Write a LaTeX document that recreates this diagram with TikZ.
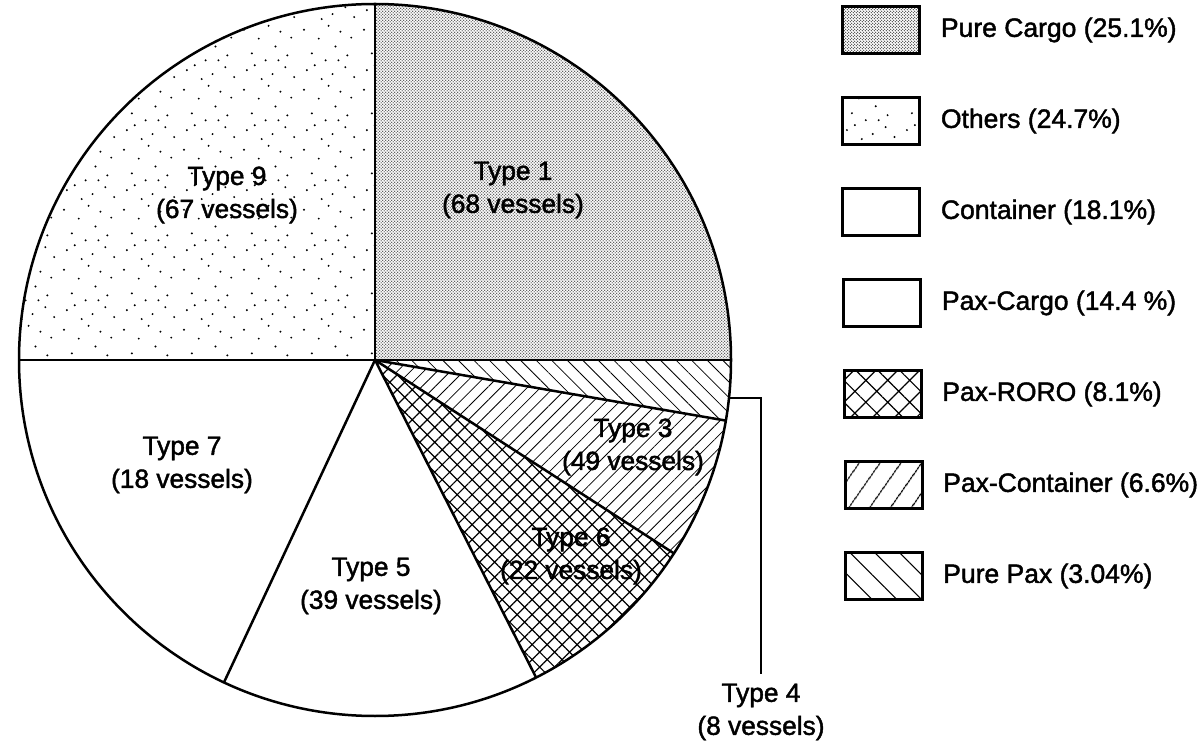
\documentclass[tikz,border=0pt]{standalone}
\usepackage{fontspec}
\setmainfont{Liberation Sans}
\newfontfamily\scanfont[FakeBold=1.6]{Liberation Sans}
\usetikzlibrary{positioning,patterns,patterns.meta}

% fine dot screen of the cargo slice
\pgfdeclarepatternformonly{fine dots}{\pgfqpoint{-0.85pt}{-0.85pt}}{\pgfqpoint{2.55pt}{2.55pt}}{\pgfqpoint{3.4pt}{3.4pt}}{%
  \pgfpathcircle{\pgfpointorigin}{0.72pt}
  \pgfpathcircle{\pgfqpoint{1.7pt}{1.7pt}}{0.72pt}
  \pgfusepath{fill}}
% loose speckle of the others slice
\pgfdeclarepatternformonly{sparse dots}{\pgfpointorigin}{\pgfqpoint{60pt}{60pt}}{\pgfqpoint{60pt}{60pt}}{%
  \pgfpathcircle{\pgfqpoint{7pt}{12pt}}{1.1pt}
  \pgfpathcircle{\pgfqpoint{19pt}{44pt}}{1.1pt}
  \pgfpathcircle{\pgfqpoint{33pt}{8pt}}{1.1pt}
  \pgfpathcircle{\pgfqpoint{48pt}{27pt}}{1.1pt}
  \pgfpathcircle{\pgfqpoint{12pt}{29pt}}{1.1pt}
  \pgfpathcircle{\pgfqpoint{41pt}{51pt}}{1.1pt}
  \pgfpathcircle{\pgfqpoint{55pt}{5pt}}{1.1pt}
  \pgfpathcircle{\pgfqpoint{26pt}{22pt}}{1.1pt}
  \pgfpathcircle{\pgfqpoint{52pt}{45pt}}{1.1pt}
  \pgfpathcircle{\pgfqpoint{4pt}{53pt}}{1.1pt}
  \pgfpathcircle{\pgfqpoint{36pt}{36pt}}{1.1pt}
  \pgfpathcircle{\pgfqpoint{22pt}{3pt}}{1.1pt}
  \pgfpathcircle{\pgfqpoint{46pt}{15pt}}{1.1pt}
  \pgfpathcircle{\pgfqpoint{29pt}{57pt}}{1.1pt}
  \pgfpathcircle{\pgfqpoint{15pt}{17pt}}{1.1pt}
  \pgfpathcircle{\pgfqpoint{39pt}{22pt}}{1.1pt}
  \pgfusepath{fill}}

\tikzset{
  slice/.style={line width=2.5pt},
  leader/.style={line width=1.6pt},
  slicelabel/.style={align=center, inner sep=0pt, font=\scanfont\fontsize{26.3}{33}\selectfont},
  legendbox/.style={draw, line width=2.5pt, minimum width=77pt, minimum height=47pt, inner sep=0pt},
  legendtext/.style={anchor=west, inner sep=0pt, font=\scanfont\fontsize{26.5}{30}\selectfont},
  purecargo/.style={pattern=fine dots, pattern color=black!85},
  others/.style={pattern=sparse dots},
  paxroro/.style={pattern={Hatch[angle=45,distance=10.6pt,line width=1.2pt]}},
  paxcont/.style={pattern={Lines[angle=45,distance=9.4pt,line width=0.8pt]}},
  purepax/.style={pattern={Lines[angle=-45,distance=11pt,line width=0.8pt]}},
}

\begin{document}
\begin{tikzpicture}[x=1pt,y=1pt]
  \useasboundingbox (0,0) rectangle (1204,742);

  %%%%% PIE %%%%%
  \begin{scope}[shift={(375,382)}]
    \fill[purecargo] (0,0) -- (0:356) arc[start angle=0,end angle=90,radius=356] -- cycle;
    \fill[others] (0,0) -- (90:356) arc[start angle=90,end angle=180,radius=356] -- cycle;
    \fill[paxroro] (0,0) -- (296.9:356) arc[start angle=296.9,end angle=327.1,radius=356] -- cycle;
    \fill[paxcont] (0,0) -- (327.1:356) arc[start angle=327.1,end angle=350.2,radius=356] -- cycle;
    \fill[purepax] (0,0) -- (350.2:356) arc[start angle=350.2,end angle=360,radius=356] -- cycle;

    \draw[slice] (0,0) circle[radius=356];
    \draw[slice] (180:356) -- (0:356);
    \draw[slice] (0,0) -- (90:356);
    \draw[slice] (0,0) -- (244.9:356);
    \draw[slice] (0,0) -- (296.9:356);
    \draw[slice] (0,0) -- (327.1:356);
    \draw[slice] (0,0) -- (350.2:356);

    \coordinate (t4) at (-6.1:356);
  \end{scope}

  \node[slicelabel] (type1) at (513,552) {Type 1\\(68 vessels)};
  \node[slicelabel] (type9) at (227,547) {Type 9\\(67 vessels)};
  \node[slicelabel] (type7) at (182,277) {Type 7\\(18 vessels)};
  \node[slicelabel] (type5) at (371,156) {Type 5\\(39 vessels)};
  \node[slicelabel] (type6) at (571,186) {Type 6\\(22 vessels)};
  \node[slicelabel] (type3) at (633,295) {Type 3\\(49 vessels)};
  \node[slicelabel] (type4) at (761,30) {Type 4\\(8 vessels)};

  \draw[leader, shorten >=10pt] (t4) -| (type4.north);

  %%%%% LEGEND %%%%%
  \node[legendbox, purecargo] (lg1) at (881,712) {};
  \node[legendtext, right=20pt of lg1] (lt1) {Pure Cargo (25.1\%)};

  \node[legendbox, others] (lg2) at (881,621) {};
  \node[legendtext, right=20pt of lg2] (lt2) {Others (24.7\%)};

  \node[legendbox] (lg3) at (881,530) {};
  \node[legendtext, right=20pt of lg3] (lt3) {Container (18.1\%)};

  \node[legendbox] (lg4) at (882,439) {};
  \node[legendtext, right=20pt of lg4] (lt4) {Pax-Cargo (14.4 \%)};

  \node[legendbox, pattern={Hatch[angle=45,distance=15.5pt,line width=1.2pt]}] (lg5) at (883,348) {};
  \node[legendtext, right=20pt of lg5] (lt5) {Pax-RORO (8.1\%)};

  \node[legendbox, pattern={Lines[angle=55,distance=17pt,line width=1.1pt]}] (lg6) at (884,257) {};
  \node[legendtext, right=20pt of lg6] (lt6) {Pax-Container (6.6\%)};

  \node[legendbox, pattern={Lines[angle=-45,distance=17.5pt,line width=1.1pt]}] (lg7) at (884,166) {};
  \node[legendtext, right=20pt of lg7] (lt7) {Pure Pax (3.04\%)};
\end{tikzpicture}
\end{document}
